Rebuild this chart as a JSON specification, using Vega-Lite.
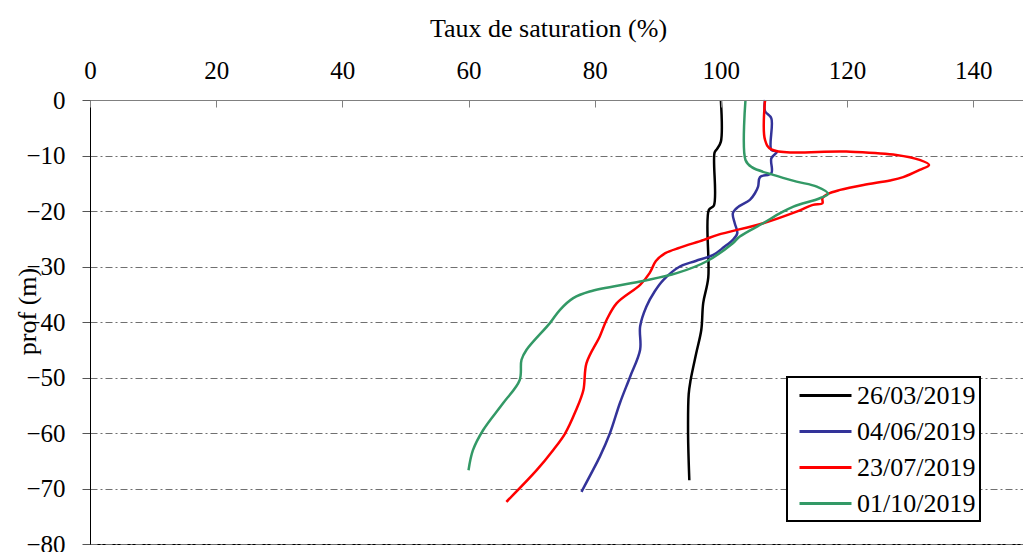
{
  "$schema": "https://vega.github.io/schema/vega-lite/v6.json",
  "width": 940,
  "height": 444,
  "autosize": "none",
  "padding": {"left": 90, "top": 100, "right": 0, "bottom": 8},
  "background": "white",
  "config": {
    "font": "Liberation Serif",
    "view": {"stroke": "black", "strokeWidth": 1},
    "legend": {"strokeWidth": 2}
  },
  "data": {
    "values": [
      {"date": "26/03/2019", "i": 1, "prof": 0, "taux": 100.0},
      {"date": "26/03/2019", "i": 2, "prof": -7.5, "taux": 100.0},
      {"date": "26/03/2019", "i": 3, "prof": -8.8, "taux": 99.4},
      {"date": "26/03/2019", "i": 4, "prof": -9.5, "taux": 99.0},
      {"date": "26/03/2019", "i": 5, "prof": -19.0, "taux": 98.9},
      {"date": "26/03/2019", "i": 6, "prof": -19.8, "taux": 98.1},
      {"date": "26/03/2019", "i": 7, "prof": -32.0, "taux": 98.0},
      {"date": "26/03/2019", "i": 8, "prof": -36.6, "taux": 97.2},
      {"date": "26/03/2019", "i": 9, "prof": -41.4, "taux": 96.9},
      {"date": "26/03/2019", "i": 10, "prof": -45.6, "taux": 96.1},
      {"date": "26/03/2019", "i": 11, "prof": -50.5, "taux": 95.2},
      {"date": "26/03/2019", "i": 12, "prof": -53.0, "taux": 94.9},
      {"date": "26/03/2019", "i": 13, "prof": -60.0, "taux": 94.8},
      {"date": "26/03/2019", "i": 14, "prof": -68.5, "taux": 95.0},
      {"date": "04/06/2019", "i": 1, "prof": 0, "taux": 107.0},
      {"date": "04/06/2019", "i": 2, "prof": -2.0, "taux": 107.0},
      {"date": "04/06/2019", "i": 3, "prof": -3.3, "taux": 108.0},
      {"date": "04/06/2019", "i": 4, "prof": -9.0, "taux": 108.0},
      {"date": "04/06/2019", "i": 5, "prof": -9.3, "taux": 108.9},
      {"date": "04/06/2019", "i": 6, "prof": -10.5, "taux": 108.0},
      {"date": "04/06/2019", "i": 7, "prof": -13.2, "taux": 108.0},
      {"date": "04/06/2019", "i": 8, "prof": -13.9, "taux": 106.2},
      {"date": "04/06/2019", "i": 9, "prof": -15.6, "taux": 105.9},
      {"date": "04/06/2019", "i": 10, "prof": -16.8, "taux": 105.4},
      {"date": "04/06/2019", "i": 11, "prof": -18.0, "taux": 104.6},
      {"date": "04/06/2019", "i": 12, "prof": -19.3, "taux": 102.7},
      {"date": "04/06/2019", "i": 13, "prof": -20.4, "taux": 101.9},
      {"date": "04/06/2019", "i": 14, "prof": -22.2, "taux": 102.2},
      {"date": "04/06/2019", "i": 15, "prof": -24.0, "taux": 102.6},
      {"date": "04/06/2019", "i": 16, "prof": -25.2, "taux": 101.9},
      {"date": "04/06/2019", "i": 17, "prof": -26.5, "taux": 100.5},
      {"date": "04/06/2019", "i": 18, "prof": -27.9, "taux": 98.8},
      {"date": "04/06/2019", "i": 19, "prof": -29.0, "taux": 96.0},
      {"date": "04/06/2019", "i": 20, "prof": -30.0, "taux": 93.5},
      {"date": "04/06/2019", "i": 21, "prof": -32.4, "taux": 90.9},
      {"date": "04/06/2019", "i": 22, "prof": -34.5, "taux": 89.5},
      {"date": "04/06/2019", "i": 23, "prof": -37.2, "taux": 88.2},
      {"date": "04/06/2019", "i": 24, "prof": -40.8, "taux": 87.2},
      {"date": "04/06/2019", "i": 25, "prof": -45.0, "taux": 87.2},
      {"date": "04/06/2019", "i": 26, "prof": -49.9, "taux": 85.6},
      {"date": "04/06/2019", "i": 27, "prof": -54.6, "taux": 84.0},
      {"date": "04/06/2019", "i": 28, "prof": -60.1, "taux": 82.4},
      {"date": "04/06/2019", "i": 29, "prof": -64.3, "taux": 80.8},
      {"date": "04/06/2019", "i": 30, "prof": -70.6, "taux": 77.9},
      {"date": "23/07/2019", "i": 1, "prof": 0, "taux": 107.0},
      {"date": "23/07/2019", "i": 2, "prof": -7.2, "taux": 107.0},
      {"date": "23/07/2019", "i": 3, "prof": -8.9, "taux": 108.0},
      {"date": "23/07/2019", "i": 4, "prof": -9.3, "taux": 119.9},
      {"date": "23/07/2019", "i": 5, "prof": -9.9, "taux": 127.8},
      {"date": "23/07/2019", "i": 6, "prof": -10.8, "taux": 131.5},
      {"date": "23/07/2019", "i": 7, "prof": -11.7, "taux": 133.0},
      {"date": "23/07/2019", "i": 8, "prof": -12.6, "taux": 131.5},
      {"date": "23/07/2019", "i": 9, "prof": -13.9, "taux": 128.9},
      {"date": "23/07/2019", "i": 10, "prof": -14.5, "taux": 126.8},
      {"date": "23/07/2019", "i": 11, "prof": -15.3, "taux": 122.6},
      {"date": "23/07/2019", "i": 12, "prof": -16.2, "taux": 118.9},
      {"date": "23/07/2019", "i": 13, "prof": -16.9, "taux": 117.0},
      {"date": "23/07/2019", "i": 14, "prof": -17.7, "taux": 116.1},
      {"date": "23/07/2019", "i": 15, "prof": -18.6, "taux": 116.1},
      {"date": "23/07/2019", "i": 16, "prof": -18.9, "taux": 114.6},
      {"date": "23/07/2019", "i": 17, "prof": -20.1, "taux": 112.0},
      {"date": "23/07/2019", "i": 18, "prof": -22.2, "taux": 106.7},
      {"date": "23/07/2019", "i": 19, "prof": -24.3, "taux": 99.5},
      {"date": "23/07/2019", "i": 20, "prof": -25.2, "taux": 97.3},
      {"date": "23/07/2019", "i": 21, "prof": -26.6, "taux": 93.5},
      {"date": "23/07/2019", "i": 22, "prof": -27.6, "taux": 91.2},
      {"date": "23/07/2019", "i": 23, "prof": -29.0, "taux": 89.7},
      {"date": "23/07/2019", "i": 24, "prof": -31.2, "taux": 88.7},
      {"date": "23/07/2019", "i": 25, "prof": -33.3, "taux": 87.2},
      {"date": "23/07/2019", "i": 26, "prof": -36.6, "taux": 83.5},
      {"date": "23/07/2019", "i": 27, "prof": -39.6, "taux": 81.9},
      {"date": "23/07/2019", "i": 28, "prof": -42.6, "taux": 80.8},
      {"date": "23/07/2019", "i": 29, "prof": -47.4, "taux": 78.7},
      {"date": "23/07/2019", "i": 30, "prof": -52.3, "taux": 78.2},
      {"date": "23/07/2019", "i": 31, "prof": -56.0, "taux": 77.0},
      {"date": "23/07/2019", "i": 32, "prof": -60.1, "taux": 75.3},
      {"date": "23/07/2019", "i": 33, "prof": -63.1, "taux": 73.4},
      {"date": "23/07/2019", "i": 34, "prof": -66.7, "taux": 70.8},
      {"date": "23/07/2019", "i": 35, "prof": -72.4, "taux": 66.0},
      {"date": "01/10/2019", "i": 1, "prof": 0, "taux": 103.9},
      {"date": "01/10/2019", "i": 2, "prof": -10.8, "taux": 103.9},
      {"date": "01/10/2019", "i": 3, "prof": -12.1, "taux": 104.9},
      {"date": "01/10/2019", "i": 4, "prof": -13.5, "taux": 108.3},
      {"date": "01/10/2019", "i": 5, "prof": -14.7, "taux": 112.0},
      {"date": "01/10/2019", "i": 6, "prof": -15.6, "taux": 115.2},
      {"date": "01/10/2019", "i": 7, "prof": -16.9, "taux": 117.0},
      {"date": "01/10/2019", "i": 8, "prof": -17.7, "taux": 115.7},
      {"date": "01/10/2019", "i": 9, "prof": -19.2, "taux": 111.5},
      {"date": "01/10/2019", "i": 10, "prof": -20.4, "taux": 109.4},
      {"date": "01/10/2019", "i": 11, "prof": -22.2, "taux": 106.7},
      {"date": "01/10/2019", "i": 12, "prof": -24.6, "taux": 103.0},
      {"date": "01/10/2019", "i": 13, "prof": -25.8, "taux": 101.9},
      {"date": "01/10/2019", "i": 14, "prof": -29.1, "taux": 97.7},
      {"date": "01/10/2019", "i": 15, "prof": -31.2, "taux": 93.0},
      {"date": "01/10/2019", "i": 16, "prof": -32.7, "taux": 87.2},
      {"date": "01/10/2019", "i": 17, "prof": -34.5, "taux": 79.2},
      {"date": "01/10/2019", "i": 18, "prof": -35.7, "taux": 76.6},
      {"date": "01/10/2019", "i": 19, "prof": -37.8, "taux": 74.5},
      {"date": "01/10/2019", "i": 20, "prof": -40.2, "taux": 72.9},
      {"date": "01/10/2019", "i": 21, "prof": -45.0, "taux": 69.2},
      {"date": "01/10/2019", "i": 22, "prof": -46.8, "taux": 68.4},
      {"date": "01/10/2019", "i": 23, "prof": -50.5, "taux": 68.1},
      {"date": "01/10/2019", "i": 24, "prof": -54.6, "taux": 65.5},
      {"date": "01/10/2019", "i": 25, "prof": -59.5, "taux": 62.3},
      {"date": "01/10/2019", "i": 26, "prof": -63.1, "taux": 60.7},
      {"date": "01/10/2019", "i": 27, "prof": -66.7, "taux": 60.0}
    ]
  },
  "mark": {"type": "line", "strokeWidth": 2.5, "interpolate": "catmull-rom"},
  "encoding": {
    "x": {
      "field": "taux",
      "type": "quantitative",
      "scale": {"domain": [0, 149], "nice": false, "zero": false},
      "axis": {
        "orient": "top",
        "values": [0, 20, 40, 60, 80, 100, 120, 140],
        "grid": false,
        "labelFlush": false,
        "labelOverlap": false,
        "labelFontSize": 25,
        "labelColor": "black",
        "labelPadding": 24,
        "tickSize": -7,
        "tickColor": "#808080",
        "domainColor": "#808080",
        "title": "Taux de saturation (%)",
        "titleFontSize": 26,
        "titleFontWeight": "normal",
        "titleColor": "black",
        "titleX": 458,
        "titleY": -64,
        "titleAlign": "center",
        "titleBaseline": "alphabetic",
        "zindex": 1
      }
    },
    "y": {
      "field": "prof",
      "type": "quantitative",
      "scale": {"domain": [-80, 0], "nice": false},
      "axis": {
        "values": [-80, -70, -60, -50, -40, -30, -20, -10, 0],
        "grid": true,
        "labelFlush": false,
        "labelOverlap": false,
        "gridColor": "#707070",
        "gridDash": [7, 3, 2, 3],
        "gridWidth": 1,
        "labelFontSize": 25,
        "labelColor": "black",
        "labelPadding": 17,
        "tickSize": 8,
        "tickColor": "#555555",
        "domainColor": "black",
        "title": "prof (m)",
        "titleFontSize": 26,
        "titleFontWeight": "normal",
        "titleColor": "black",
        "titleX": -55,
        "titleY": 211,
        "titleAngle": 270,
        "titleAlign": "center",
        "titleBaseline": "alphabetic"
      }
    },
    "color": {
      "field": "date",
      "type": "nominal",
      "scale": {
        "domain": ["26/03/2019", "04/06/2019", "23/07/2019", "01/10/2019"],
        "range": ["#000000", "#333399", "#ff0000", "#339966"]
      },
      "legend": {
        "title": null,
        "orient": "none",
        "legendX": 697,
        "legendY": 277,
        "fillColor": "white",
        "strokeColor": "black",
        "padding": 4,
        "labelFontSize": 26,
        "labelColor": "black",
        "labelOffset": 17,
        "symbolType": "M-2,0L2,0",
        "symbolFillColor": "transparent",
        "symbolStrokeWidth": 3,
        "symbolSize": 676,
        "symbolOffset": 20,
        "rowPadding": 8
      }
    },
    "order": {"field": "i", "type": "quantitative"}
  }
}
